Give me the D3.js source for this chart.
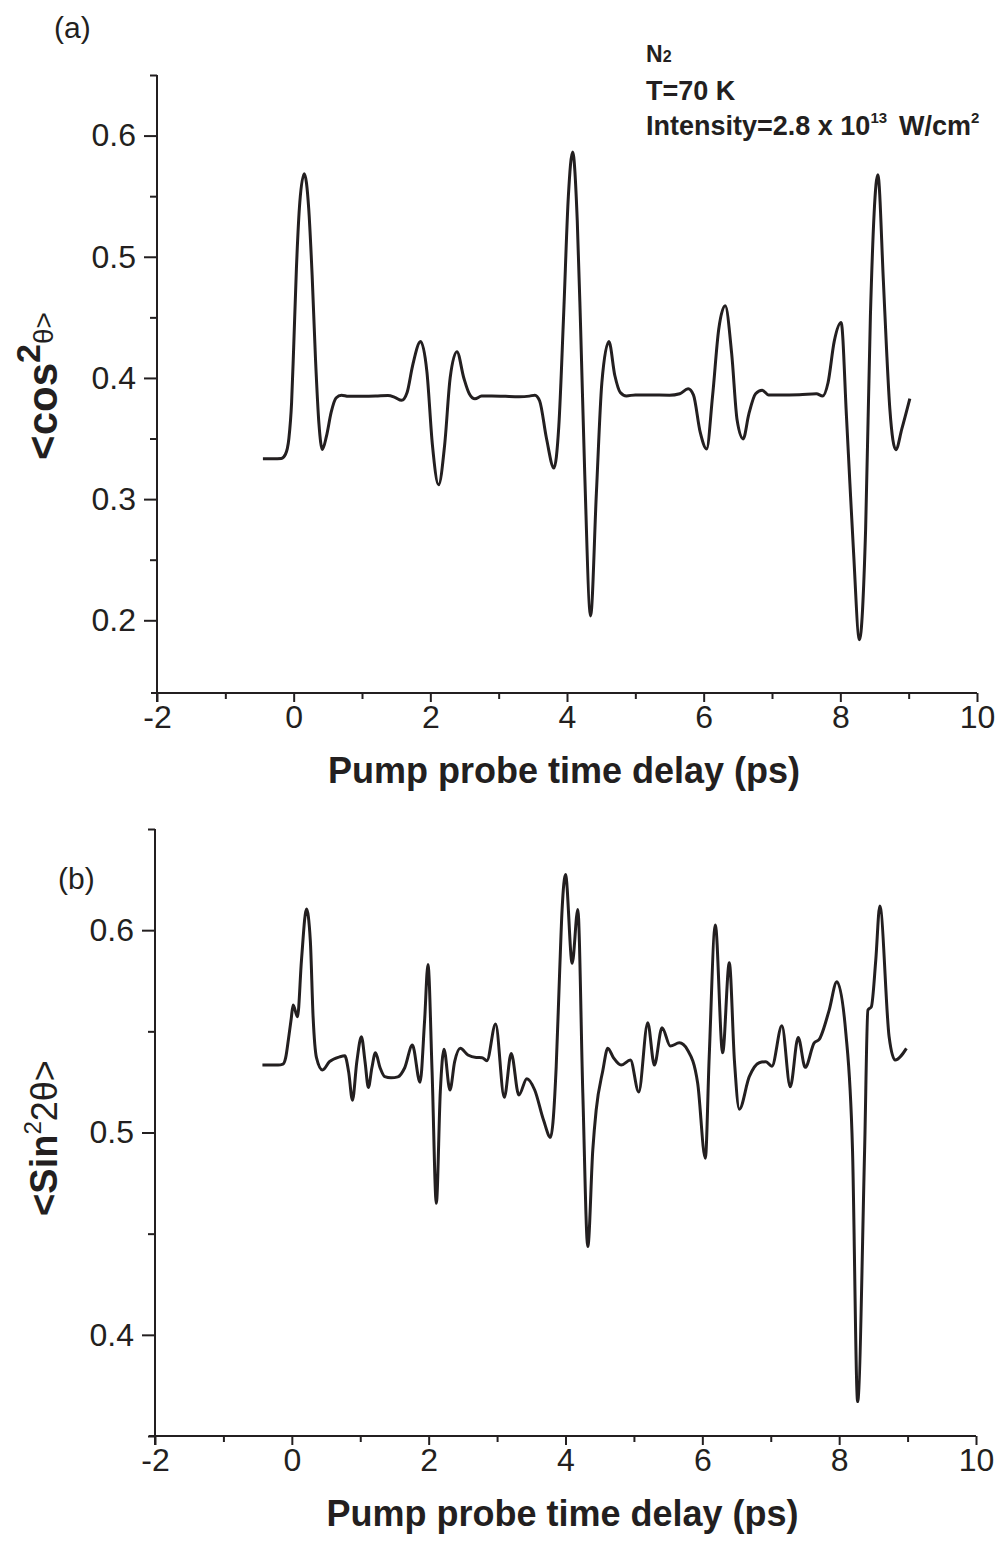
<!DOCTYPE html>
<html>
<head>
<meta charset="utf-8">
<script src="https://cdnjs.cloudflare.com/ajax/libs/d3/7.8.5/d3.min.js"></script>
<style>
  body { margin: 0; background: #fff; }
  svg text { font-family: "Liberation Sans", Arial, Helvetica, sans-serif; fill: #231f20; }
</style>
</head>
<body>
<div id="chart"></div>
<script>
// ---- data ----
// panel (a): <cos^2 theta> vs pump probe delay (ps)
var timeA = [-0.45, -0.30, -0.18, -0.12, -0.07, -0.03, 0.00, 0.04, 0.09, 0.155, 0.22, 0.27, 0.32, 0.37, 0.42, 0.48, 0.55, 0.62, 0.70, 0.80,
  1.00, 1.20, 1.38, 1.48, 1.58, 1.66, 1.74, 1.858, 1.95, 2.03, 2.121, 2.21, 2.29, 2.389, 2.49, 2.57, 2.653, 2.75, 2.90, 3.10,
  3.30, 3.45, 3.53, 3.60, 3.70, 3.809, 3.88, 3.95, 4.02, 4.082, 4.15, 4.20, 4.26, 4.345, 4.43, 4.51, 4.613, 4.70, 4.78, 4.87,
  5.00, 5.20, 5.50, 5.65, 5.773, 5.85, 5.95, 6.043, 6.13, 6.22, 6.315, 6.41, 6.49, 6.578, 6.66, 6.76, 6.856, 6.95, 7.10, 7.40,
  7.65, 7.74, 7.82, 7.91, 8.012, 8.09, 8.14, 8.19, 8.28, 8.37, 8.44, 8.549, 8.63, 8.676, 8.725, 8.812, 8.90, 9.017];
var cos2Values = [0.3333, 0.3333, 0.3336, 0.337, 0.350, 0.380, 0.425, 0.490, 0.545, 0.5685, 0.540, 0.485, 0.415, 0.362, 0.341, 0.352, 0.372, 0.3835, 0.3858, 0.3848,
  0.3848, 0.3850, 0.3855, 0.384, 0.3815, 0.388, 0.410, 0.430, 0.405, 0.345, 0.3118, 0.345, 0.400, 0.4217, 0.400, 0.387, 0.3828, 0.3850, 0.3852, 0.3848,
  0.3845, 0.3850, 0.3858, 0.381, 0.350, 0.3256, 0.360, 0.451, 0.550, 0.5865, 0.530, 0.440, 0.320, 0.2036, 0.305, 0.396, 0.430, 0.402, 0.388, 0.3852,
  0.3860, 0.3860, 0.3858, 0.3870, 0.391, 0.386, 0.355, 0.3414, 0.385, 0.440, 0.4595, 0.420, 0.365, 0.3497, 0.370, 0.387, 0.3899, 0.386, 0.3860, 0.3862,
  0.3870, 0.385, 0.396, 0.430, 0.4457, 0.368, 0.313, 0.260, 0.184, 0.275, 0.451, 0.5677, 0.480, 0.424, 0.374, 0.3408, 0.358, 0.383];

// panel (b): <sin^2 2theta> vs pump probe delay (ps)
var timeB = [-0.43, -0.20, -0.13, -0.09, -0.05, -0.01, 0.019, 0.083, 0.141, 0.214, 0.27, 0.311, 0.36, 0.448, 0.55, 0.70, 0.774, 0.83, 0.886, 0.95,
  1.017, 1.07, 1.119, 1.17, 1.222, 1.29, 1.358, 1.45, 1.55, 1.65, 1.762, 1.874, 1.94, 1.99, 2.05, 2.112, 2.17, 2.224, 2.311, 2.38,
  2.462, 2.574, 2.695, 2.78, 2.851, 2.978, 3.105, 3.207, 3.318, 3.435, 3.55, 3.68, 3.781, 3.864, 3.912, 3.95, 4.00, 4.098, 4.18, 4.253,
  4.326, 4.399, 4.448, 4.545, 4.618, 4.70, 4.813, 4.949, 5.07, 5.202, 5.299, 5.411, 5.533, 5.664, 5.786, 5.932, 6.044, 6.10, 6.19, 6.297,
  6.394, 6.47, 6.54, 6.686, 6.832, 6.93, 7.017, 7.163, 7.285, 7.401, 7.504, 7.635, 7.708, 7.854, 7.966, 8.098, 8.195, 8.27, 8.372, 8.42,
  8.47, 8.535, 8.594, 8.73, 8.818, 8.983];
var sin2Values = [0.5333, 0.5333, 0.5338, 0.537, 0.546, 0.556, 0.563, 0.5572, 0.5852, 0.6104, 0.595, 0.557, 0.537, 0.5309, 0.535, 0.5374, 0.5379, 0.530, 0.516, 0.535,
  0.5473, 0.535, 0.5223, 0.532, 0.5394, 0.532, 0.5276, 0.527, 0.5275, 0.532, 0.5432, 0.5248, 0.555, 0.583, 0.530, 0.465, 0.520, 0.5412, 0.521, 0.535,
  0.5416, 0.5383, 0.5371, 0.5370, 0.5355, 0.5536, 0.5174, 0.5391, 0.5185, 0.5266, 0.521, 0.506, 0.4976, 0.5325, 0.577, 0.610, 0.6275, 0.5836, 0.6102, 0.5195,
  0.4436, 0.4914, 0.511, 0.5305, 0.5416, 0.537, 0.5333, 0.5358, 0.520, 0.5542, 0.5333, 0.5518, 0.5427, 0.5443, 0.5407, 0.5243, 0.4873, 0.537, 0.6025, 0.5394,
  0.5839, 0.535, 0.5115, 0.5276, 0.5345, 0.5350, 0.5328, 0.5527, 0.5226, 0.5470, 0.5322, 0.5443, 0.546, 0.5605, 0.5745, 0.549, 0.4914, 0.367, 0.4914, 0.5605,
  0.5621, 0.5852, 0.6119, 0.5473, 0.5358, 0.5416];

var xTicks = [-2, 0, 2, 4, 6, 8, 10];
var xMinorTicks = [-1, 1, 3, 5, 7, 9];
var yTicksA = [0.2, 0.3, 0.4, 0.5, 0.6];
var yMinorTicksA = [0.25, 0.35, 0.45, 0.55, 0.65];
var yTicksB = [0.4, 0.5, 0.6];
var yMinorTicksB = [0.35, 0.45, 0.55, 0.65];

var ink = "#231f20";

var svg = d3.select("#chart").append("svg")
  .attr("width", 1000)
  .attr("height", 1548);

function drawPanel(cfg){
  var x = d3.scaleLinear().domain([-2, 10]).range([cfg.left, cfg.right]);
  var y = d3.scaleLinear().domain(cfg.yDomain).range([cfg.bottom, cfg.top]);
  var g = svg.append("g");

  // minor ticks first so the axis line sits on top
  g.append("g")
    .attr("transform", "translate(0," + cfg.bottom + ")")
    .call(d3.axisBottom(x).tickValues(xMinorTicks).tickSize(6).tickSizeOuter(0).tickFormat(""))
    .call(function(a){ a.select(".domain").remove(); });
  g.append("g")
    .attr("transform", "translate(" + cfg.left + ",0)")
    .call(d3.axisLeft(y).tickValues(cfg.yMinor).tickSize(7).tickSizeOuter(0).tickFormat(""))
    .call(function(a){ a.select(".domain").remove(); });

  var xAxis = g.append("g")
    .attr("transform", "translate(0," + cfg.bottom + ")")
    .call(d3.axisBottom(x).tickValues(xTicks).tickSize(9).tickPadding(3).tickSizeOuter(0)
      .tickFormat(function(d){ return String(d); }));
  var yAxis = g.append("g")
    .attr("transform", "translate(" + cfg.left + ",0)")
    .call(d3.axisLeft(y).tickValues(cfg.yTicks).tickSize(13).tickPadding(8).tickSizeOuter(0)
      .tickFormat(d3.format(".1f")));

  [xAxis, yAxis].forEach(function(a){
    a.selectAll(".domain").remove();
    a.selectAll("text").attr("font-family", null).style("font-size", "32px").attr("fill", ink);
  });
  g.selectAll(".tick line").attr("stroke", ink).attr("stroke-width", 2);

  // axis lines (x axis sticks out a little past the y axis, as in the original)
  g.append("line")
    .attr("x1", cfg.left - 6).attr("x2", cfg.right)
    .attr("y1", cfg.bottom).attr("y2", cfg.bottom)
    .attr("stroke", ink).attr("stroke-width", 2);
  g.append("line")
    .attr("x1", cfg.left).attr("x2", cfg.left)
    .attr("y1", cfg.top).attr("y2", cfg.bottom + 9)
    .attr("stroke", ink).attr("stroke-width", 2);

  var line = d3.line()
    .x(function(d){ return x(d[0]); })
    .y(function(d){ return y(d[1]); })
    .curve(d3.curveMonotoneX);

  g.append("path")
    .datum(d3.zip(cfg.time, cfg.values))
    .attr("d", line)
    .attr("fill", "none")
    .attr("stroke", ink)
    .attr("stroke-width", 3)
    .attr("stroke-linejoin", "round");

  // x title
  g.append("text")
    .attr("x", (cfg.left + cfg.right) / 2 - 3)
    .attr("y", cfg.bottom + 90)
    .attr("text-anchor", "middle")
    .style("font-size", "36px")
    .style("font-weight", "bold")
    .text("Pump probe time delay (ps)");

  // panel letter
  g.append("text")
    .attr("x", cfg.letterX).attr("y", cfg.letterY)
    .style("font-size", "30px")
    .text(cfg.letter);

  return {x: x, y: y, g: g};
}

var panelA = drawPanel({
  left: 157, right: 977, top: 75, bottom: 693,
  yDomain: [0.14, 0.65], yTicks: yTicksA, yMinor: yMinorTicksA,
  time: timeA, values: cos2Values,
  letter: "(a)", letterX: 54, letterY: 38
});

var panelB = drawPanel({
  left: 155, right: 976, top: 829, bottom: 1436,
  yDomain: [0.35, 0.65], yTicks: yTicksB, yMinor: yMinorTicksB,
  time: timeB, values: sin2Values,
  letter: "(b)", letterX: 58, letterY: 889
});

// y titles (rotated)
var yTitleA = svg.append("text")
  .attr("transform", "translate(57,386) rotate(-90)")
  .attr("text-anchor", "middle");
yTitleA.append("tspan").style("font-size", "42px").style("font-weight", "bold").text("<cos");
yTitleA.append("tspan").style("font-size", "34px").style("font-weight", "bold").attr("dy", -17).text("2");
yTitleA.append("tspan").style("font-size", "28px").attr("dy", 13).text("θ>");

var yTitleB = svg.append("text")
  .attr("transform", "translate(57,1138) rotate(-90)")
  .attr("text-anchor", "middle");
yTitleB.append("tspan").style("font-size", "38px").style("font-weight", "bold").text("<Sin");
yTitleB.append("tspan").style("font-size", "24px").attr("dy", -16).text("2");
yTitleB.append("tspan").style("font-size", "36px").attr("dy", 16).text("2θ>");

// annotation block in panel (a)
var note = svg.append("g").style("font-weight", "bold");
var n2 = note.append("text").attr("x", 646).attr("y", 62).style("font-size", "23px");
n2.append("tspan").text("N");
n2.append("tspan").style("font-size", "16px").text("2");
note.append("text").attr("x", 646).attr("y", 100).style("font-size", "27px").text("T=70 K");
var inten = note.append("text").attr("x", 646).attr("y", 135).style("font-size", "27px");
inten.append("tspan").text("Intensity=2.8 x 10");
inten.append("tspan").style("font-size", "15px").attr("dy", -12).text("13");
inten.append("tspan").attr("dy", 12).attr("dx", 12).text("W/cm");
inten.append("tspan").style("font-size", "15px").attr("dy", -12).text("2");
</script>
</body>
</html>
